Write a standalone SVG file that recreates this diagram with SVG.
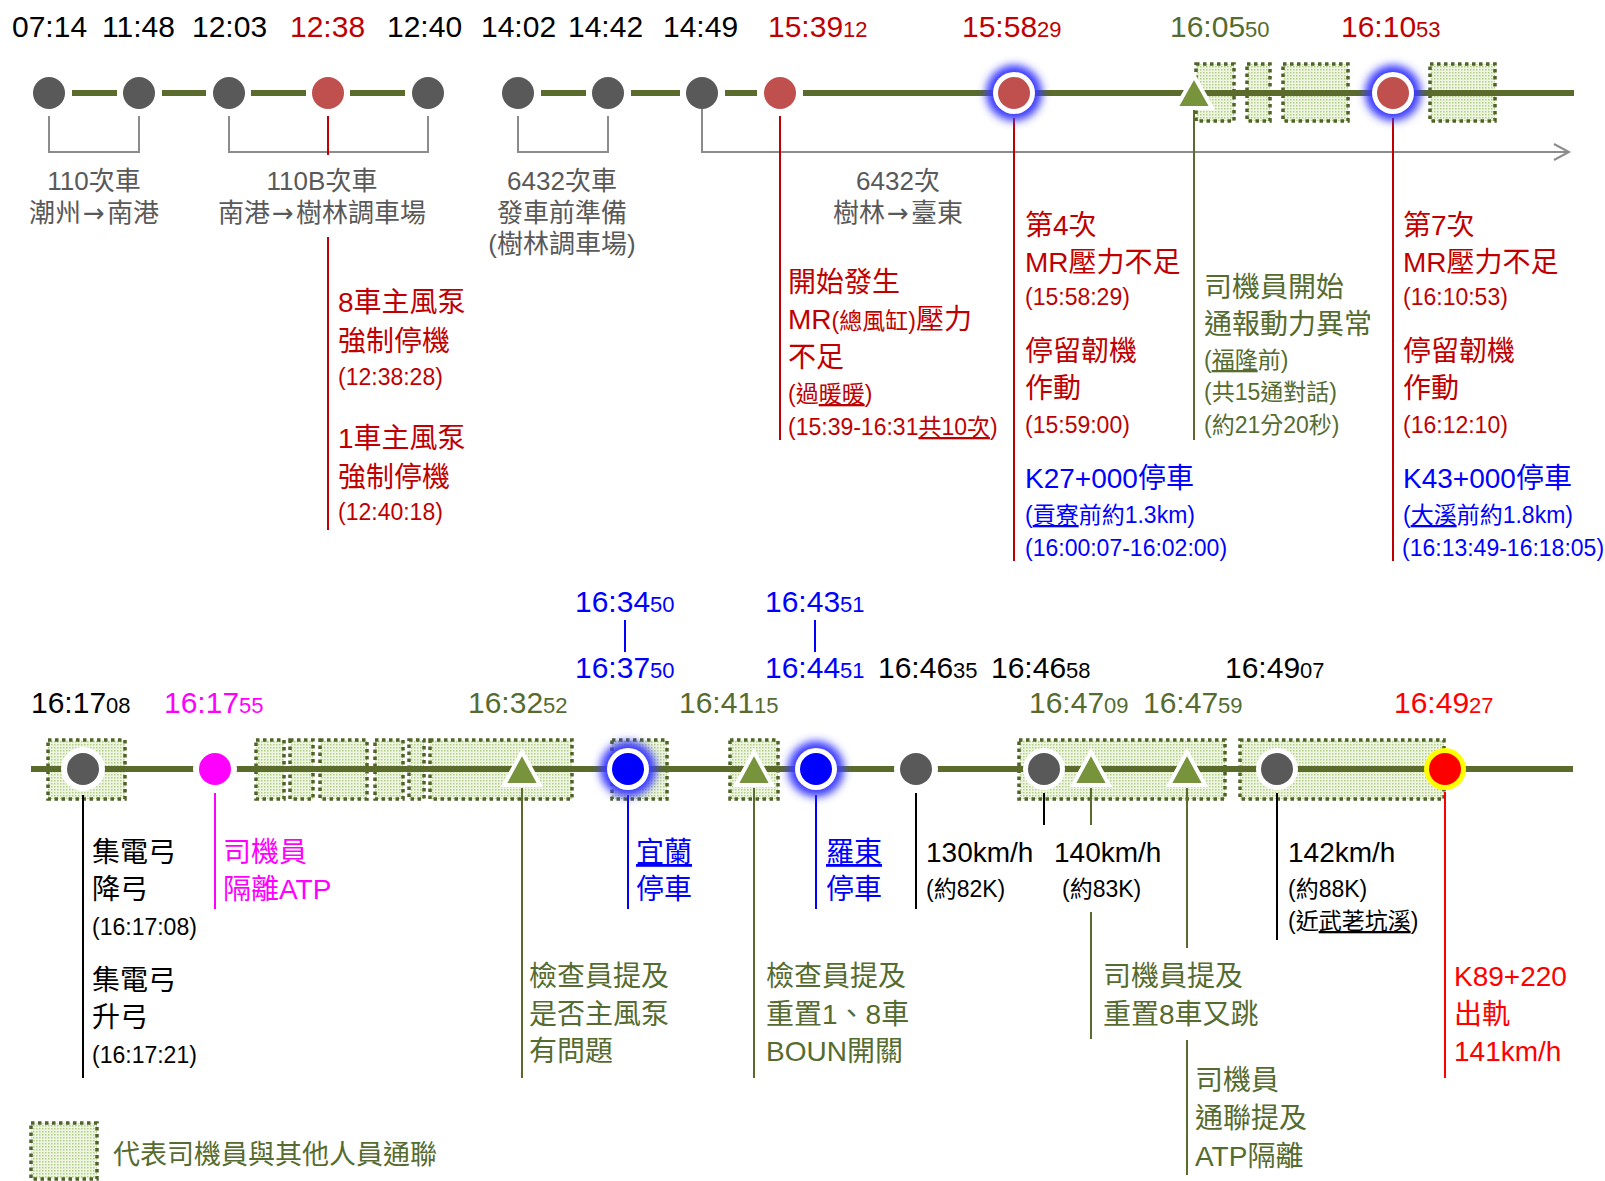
<svg xmlns="http://www.w3.org/2000/svg" width="1605" height="1181" viewBox="0 0 1605 1181">
<defs>
<pattern id="dots" width="3" height="3" patternUnits="userSpaceOnUse">
<rect width="3" height="3" fill="#eef5e1"/>
<rect width="1.5" height="1.5" fill="#b3cf88"/>
</pattern>
<filter id="glow" x="-60%" y="-60%" width="220%" height="220%"><feGaussianBlur stdDeviation="4"/></filter>
</defs>
<style>
text{font-family:"Liberation Sans","Noto Sans CJK TC",sans-serif}
.time{font-size:30px}
.sec{font-size:22px}
.lbl{font-size:26px;fill:#595959}
.big{font-size:28px}
.sm{font-size:23px}
.red{fill:#c00000}
.blue{fill:#0000ff}
.olv{fill:#556b2f}
.blk{fill:#000}
.mag{fill:#ff00ff}
.rr{fill:#ff0000}
.box{fill:url(#dots);stroke:#4f6228;stroke-width:3.5;stroke-dasharray:3.5 3.5}
.seg{stroke:#5a6b2c;stroke-width:6;fill:none}
.ld{stroke-width:2;fill:none}
.gray{stroke:#8c8c8c;stroke-width:2;fill:none}
.u{text-decoration:underline}
.ar{font-family:"DejaVu Sans",sans-serif;letter-spacing:2px}
</style>

<!-- communication boxes -->
<g id="comm-boxes">
<rect class="box" x="1196" y="64" width="38" height="57"/>
<rect class="box" x="1247" y="64" width="23" height="57"/>
<rect class="box" x="1283" y="64" width="65" height="57"/>
<rect class="box" x="1430" y="64" width="65" height="57"/>
<rect class="box" x="48" y="740" width="77" height="59"/>
<rect class="box" x="256" y="740" width="28" height="59"/>
<rect class="box" x="290" y="740" width="23" height="59"/>
<rect class="box" x="320" y="740" width="47" height="59"/>
<rect class="box" x="375" y="740" width="28" height="59"/>
<rect class="box" x="409" y="740" width="15" height="59"/>
<rect class="box" x="430" y="740" width="142" height="59"/>
<rect class="box" x="612" y="740" width="55" height="59"/>
<rect class="box" x="730" y="740" width="48" height="59"/>
<rect class="box" x="1019" y="740" width="206" height="59"/>
<rect class="box" x="1240" y="740" width="204" height="59"/>
</g>

<!-- connectors -->
<g id="connectors">
<path class="seg" d="M72,93H117M162,93H206M251,93H306M350,93H405M541,93H586M631,93H680M725,93H757M803,93H1574"/>
<path class="seg" d="M31,769H1573"/>
<path class="gray" d="M49,116V152H139V116M229,116V152H428V116M518,116V152H608V116"/>
<path class="gray" d="M702,96V152H1568M1554,144L1569,152L1554,160"/>
<path class="ld" stroke="#c00000" d="M328,116V155M328,237V530M780,116V440M1014,118V561M1393,118V561"/>
<path class="ld" stroke="#5a6b2c" d="M1194,110V440"/>
<path class="ld" stroke="#0000ff" d="M625,620V652M815,620V652M628,795V909M816,795V909"/>
<path class="ld" stroke="#000" d="M83,795V1078M916,793V909M1044,793V825M1277,793V940"/>
<path class="ld" stroke="#ff00ff" d="M215,793V909"/>
<path class="ld" stroke="#5a6b2c" d="M522,788V1078M754,788V1078M1091,788V825M1091,912V1039M1187,788V948M1187,1040V1175"/>
<path class="ld" stroke="#ff0000" d="M1445,792V1078"/>
</g>

<!-- top nodes -->
<g id="n0714"><circle cx="49" cy="93" r="22" fill="#fff"/><circle cx="49" cy="93" r="16" fill="#595959"/></g>
<g id="n1148"><circle cx="139" cy="93" r="22" fill="#fff"/><circle cx="139" cy="93" r="16" fill="#595959"/></g>
<g id="n1203"><circle cx="229" cy="93" r="22" fill="#fff"/><circle cx="229" cy="93" r="16" fill="#595959"/></g>
<g id="n1238"><circle cx="328" cy="93" r="22" fill="#fff"/><circle cx="328" cy="93" r="16" fill="#c0504d"/></g>
<g id="n1240"><circle cx="428" cy="93" r="22" fill="#fff"/><circle cx="428" cy="93" r="16" fill="#595959"/></g>
<g id="n1402"><circle cx="518" cy="93" r="22" fill="#fff"/><circle cx="518" cy="93" r="16" fill="#595959"/></g>
<g id="n1442"><circle cx="608" cy="93" r="22" fill="#fff"/><circle cx="608" cy="93" r="16" fill="#595959"/></g>
<g id="n1449"><circle cx="702" cy="93" r="16" fill="#595959"/></g>
<g id="n1539"><circle cx="780" cy="93" r="22" fill="#fff"/><circle cx="780" cy="93" r="16" fill="#c0504d"/></g>
<g id="n1558"><circle cx="1014" cy="93" r="28" fill="#3a3aff" filter="url(#glow)"/><circle cx="1014" cy="93" r="21" fill="#fff"/><circle cx="1014" cy="93" r="16" fill="#c0504d"/></g>
<g id="n1605"><path d="M1194,76L1212,108H1176Z" fill="#77933c" stroke="#fff" stroke-width="4"/></g>
<g id="n1610"><circle cx="1393" cy="93" r="28" fill="#3a3aff" filter="url(#glow)"/><circle cx="1393" cy="93" r="21" fill="#fff"/><circle cx="1393" cy="93" r="16" fill="#c0504d"/></g>

<!-- bottom nodes -->
<g id="n161708"><circle cx="83" cy="769" r="22" fill="#fff"/><circle cx="83" cy="769" r="16" fill="#595959"/></g>
<g id="n161755"><circle cx="215" cy="769" r="22" fill="#fff"/><circle cx="215" cy="769" r="16" fill="#ff00ff"/></g>
<g id="n163252"><path d="M522,752L540,785H504Z" fill="#77933c" stroke="#fff" stroke-width="4"/></g>
<g id="n1634"><circle cx="628" cy="769" r="28" fill="#3a3aff" filter="url(#glow)"/><circle cx="628" cy="769" r="21" fill="#fff"/><circle cx="628" cy="769" r="16" fill="#0000ff"/></g>
<g id="n164115"><path d="M754,752L772,785H736Z" fill="#77933c" stroke="#fff" stroke-width="4"/></g>
<g id="n1643"><circle cx="816" cy="769" r="28" fill="#3a3aff" filter="url(#glow)"/><circle cx="816" cy="769" r="21" fill="#fff"/><circle cx="816" cy="769" r="16" fill="#0000ff"/></g>
<g id="n164635"><circle cx="916" cy="769" r="22" fill="#fff"/><circle cx="916" cy="769" r="16" fill="#595959"/></g>
<g id="n164658"><circle cx="1044" cy="769" r="21" fill="#fff"/><circle cx="1044" cy="769" r="16" fill="#595959"/></g>
<g id="n164709"><path d="M1091,752L1109,785H1073Z" fill="#77933c" stroke="#fff" stroke-width="4"/></g>
<g id="n164759"><path d="M1187,752L1205,785H1169Z" fill="#77933c" stroke="#fff" stroke-width="4"/></g>
<g id="n164907"><circle cx="1277" cy="769" r="21" fill="#fff"/><circle cx="1277" cy="769" r="16" fill="#595959"/></g>
<g id="n164927"><circle cx="1445" cy="769" r="21" fill="#ffff00"/><circle cx="1445" cy="769" r="16" fill="#ff0000"/></g>

<!-- top times -->
<g id="top-times" class="time">
<text x="12" y="37" class="blk">07:14</text>
<text x="102" y="37" class="blk">11:48</text>
<text x="192" y="37" class="blk">12:03</text>
<text x="290" y="37" class="red">12:38</text>
<text x="387" y="37" class="blk">12:40</text>
<text x="481" y="37" class="blk">14:02</text>
<text x="568" y="37" class="blk">14:42</text>
<text x="663" y="37" class="blk">14:49</text>
<text x="768" y="37" class="red">15:39<tspan class="sec">12</tspan></text>
<text x="962" y="37" class="red">15:58<tspan class="sec">29</tspan></text>
<text x="1170" y="37" class="olv">16:05<tspan class="sec">50</tspan></text>
<text x="1341" y="37" class="red">16:10<tspan class="sec">53</tspan></text>
</g>

<!-- top gray labels -->
<g id="top-labels" class="lbl" text-anchor="middle">
<text x="94" y="190">110次車</text>
<text x="94" y="222">潮州<tspan class="ar" dx="2">→</tspan>南港</text>
<text x="322" y="190">110B次車</text>
<text x="322" y="222">南港<tspan class="ar" dx="2">→</tspan>樹林調車場</text>
<text x="562" y="190">6432次車</text>
<text x="562" y="222">發車前準備</text>
<text x="562" y="253">(樹林調車場)</text>
<text x="898" y="190">6432次</text>
<text x="898" y="222">樹林<tspan class="ar" dx="2">→</tspan>臺東</text>
</g>

<!-- 12:38 texts -->
<g id="t1238" class="red">
<text x="338" y="312" class="big">8車主風泵</text>
<text x="338" y="351" class="big">強制停機</text>
<text x="338" y="385" class="sm">(12:38:28)</text>
<text x="338" y="448" class="big">1車主風泵</text>
<text x="338" y="487" class="big">強制停機</text>
<text x="338" y="520" class="sm">(12:40:18)</text>
</g>

<g id="t1539" class="red">
<text x="788" y="292" class="big">開始發生</text>
<text x="788" y="329" class="big">MR<tspan class="sm">(總風缸)</tspan>壓力</text>
<text x="788" y="367" class="big">不足</text>
<text x="788" y="402" class="sm">(過<tspan class="u">暖暖</tspan>)</text>
<text x="788" y="435" class="sm">(15:39-16:31<tspan class="u">共10次</tspan>)</text>
</g>

<g id="t1558">
<text x="1025" y="235" class="big red">第4次</text>
<text x="1025" y="272" class="big red">MR壓力不足</text>
<text x="1025" y="305" class="sm red">(15:58:29)</text>
<text x="1025" y="361" class="big red">停留韌機</text>
<text x="1025" y="398" class="big red">作動</text>
<text x="1025" y="433" class="sm red">(15:59:00)</text>
<text x="1025" y="488" class="big blue">K27+000停車</text>
<text x="1025" y="523" class="sm blue">(<tspan class="u">貢寮</tspan>前約1.3km)</text>
<text x="1025" y="556" class="sm blue">(16:00:07-16:02:00)</text>
</g>

<g id="t1605" class="olv">
<text x="1204" y="297" class="big">司機員開始</text>
<text x="1204" y="334" class="big">通報動力異常</text>
<text x="1204" y="368" class="sm">(<tspan class="u">福隆</tspan>前)</text>
<text x="1204" y="400" class="sm">(共15通對話)</text>
<text x="1204" y="433" class="sm">(約21分20秒)</text>
</g>

<g id="t1610">
<text x="1403" y="235" class="big red">第7次</text>
<text x="1403" y="272" class="big red">MR壓力不足</text>
<text x="1403" y="305" class="sm red">(16:10:53)</text>
<text x="1403" y="361" class="big red">停留韌機</text>
<text x="1403" y="398" class="big red">作動</text>
<text x="1403" y="433" class="sm red">(16:12:10)</text>
<text x="1403" y="488" class="big blue">K43+000停車</text>
<text x="1403" y="523" class="sm blue">(<tspan class="u">大溪</tspan>前約1.8km)</text>
<text x="1402" y="556" class="sm blue">(16:13:49-16:18:05)</text>
</g>

<!-- bottom times -->
<g id="bottom-times" class="time">
<text x="575" y="612" class="blue">16:34<tspan class="sec">50</tspan></text>
<text x="765" y="612" class="blue">16:43<tspan class="sec">51</tspan></text>
<text x="575" y="678" class="blue">16:37<tspan class="sec">50</tspan></text>
<text x="765" y="678" class="blue">16:44<tspan class="sec">51</tspan></text>
<text x="878" y="678" class="blk">16:46<tspan class="sec">35</tspan></text>
<text x="991" y="678" class="blk">16:46<tspan class="sec">58</tspan></text>
<text x="1225" y="678" class="blk">16:49<tspan class="sec">07</tspan></text>
<text x="31" y="713" class="blk">16:17<tspan class="sec">08</tspan></text>
<text x="164" y="713" class="mag">16:17<tspan class="sec">55</tspan></text>
<text x="468" y="713" class="olv">16:32<tspan class="sec">52</tspan></text>
<text x="679" y="713" class="olv">16:41<tspan class="sec">15</tspan></text>
<text x="1029" y="713" class="olv">16:47<tspan class="sec">09</tspan></text>
<text x="1143" y="713" class="olv">16:47<tspan class="sec">59</tspan></text>
<text x="1394" y="713" class="rr">16:49<tspan class="sec">27</tspan></text>
</g>

<!-- bottom labels -->
<g id="b-pan" class="blk">
<text x="92" y="862" class="big">集電弓</text>
<text x="92" y="899" class="big">降弓</text>
<text x="92" y="935" class="sm">(16:17:08)</text>
<text x="92" y="990" class="big">集電弓</text>
<text x="92" y="1027" class="big">升弓</text>
<text x="92" y="1063" class="sm">(16:17:21)</text>
</g>
<g id="b-atp" class="mag">
<text x="223" y="862" class="big">司機員</text>
<text x="223" y="899" class="big">隔離ATP</text>
</g>
<g id="b-yilan" class="blue">
<text x="636" y="862" class="big u">宜蘭</text>
<text x="636" y="899" class="big">停車</text>
</g>
<g id="b-luodong" class="blue">
<text x="826" y="862" class="big u">羅東</text>
<text x="826" y="899" class="big">停車</text>
</g>
<g id="b-speeds" class="blk">
<text x="926" y="862" class="big">130km/h</text>
<text x="926" y="897" class="sm">(約82K)</text>
<text x="1054" y="862" class="big">140km/h</text>
<text x="1062" y="897" class="sm">(約83K)</text>
<text x="1288" y="862" class="big">142km/h</text>
<text x="1288" y="897" class="sm">(約88K)</text>
<text x="1288" y="929" class="sm">(近<tspan class="u">武荖坑溪</tspan>)</text>
</g>
<g id="b-olive" class="olv">
<text x="529" y="986" class="big">檢查員提及</text>
<text x="529" y="1024" class="big">是否主風泵</text>
<text x="529" y="1061" class="big">有問題</text>
<text x="766" y="986" class="big">檢查員提及</text>
<text x="766" y="1024" class="big">重置1、8車</text>
<text x="766" y="1061" class="big">BOUN開關</text>
<text x="1103" y="986" class="big">司機員提及</text>
<text x="1103" y="1024" class="big">重置8車又跳</text>
<text x="1195" y="1090" class="big">司機員</text>
<text x="1195" y="1128" class="big">通聯提及</text>
<text x="1195" y="1166" class="big">ATP隔離</text>
</g>
<g id="b-derail" class="rr">
<text x="1454" y="986" class="big">K89+220</text>
<text x="1454" y="1024" class="big">出軌</text>
<text x="1454" y="1061" class="big">141km/h</text>
</g>

<!-- legend -->
<g id="legend">
<rect class="box" x="31" y="1123" width="66" height="56"/>
<text x="113" y="1164" class="olv" style="font-size:27px">代表司機員與其他人員通聯</text>
</g>
</svg>
